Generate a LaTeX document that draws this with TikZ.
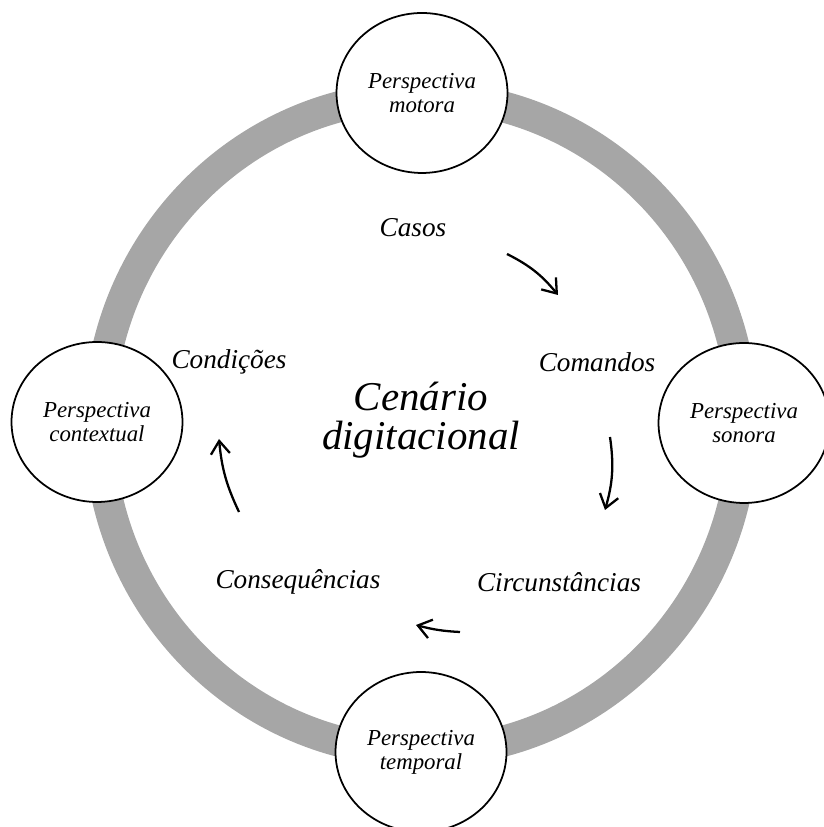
\documentclass[tikz,border=0pt]{standalone}
\usepackage{fontspec}
\setmainfont{Liberation Serif}
\usetikzlibrary{shapes.geometric,arrows.meta}
\definecolor{ringgray}{RGB}{166,166,166}
\begin{document}
\begin{tikzpicture}[x=0.02cm,y=0.02cm,
    persp/.style={ellipse,draw,line width=1pt,fill=white,minimum width=3.42cm,
      minimum height=3.2cm,inner sep=0pt,align=center,
      font=\fontsize{13}{13.6}\selectfont\itshape},
    phase/.style={font=\fontsize{15.5}{18}\selectfont\itshape},
    turn/.style={line width=1.3pt,-{Straight Barb[length=2.6mm,width=3.8mm]}}]
    \useasboundingbox (0,0) rectangle (823,827);

    \draw[ringgray,line width=0.62cm] (421,403) ellipse [x radius=322,y radius=328];

    \node[persp] (motora)     at (422,734) {Perspectiva\\motora};
    \node[persp] (contextual) at (97,405)  {Perspectiva\\contextual};
    \node[persp] (sonora)     at (744,404) {Perspectiva\\sonora};
    \node[persp] (temporal)   at (421,75)  {Perspectiva\\temporal};

    \node[font=\fontsize{23.3}{22.5}\selectfont\itshape,align=center] (cenario) at (421,407)
      {Cen\'ario\\digitacional};

    \node[phase] (casos)          at (413,599) {Casos};
    \node[phase] (comandos)       at (597,465) {Comandos};
    \node[phase] (condicoes)      at (229,465) {Condições};
    \node[phase] (circunstancias) at (559,245) {Circunstâncias};
    \node[phase] (consequencias)  at (298,245) {Consequências};

    \coordinate (a1) at (507,573);
    \coordinate (b1) at (558,532);
    \coordinate (a2) at (610,390);
    \coordinate (b2) at (605,317);
    \coordinate (a3) at (460,195);
    \coordinate (b3) at (416,202);
    \coordinate (a4) at (239,315);
    \coordinate (b4) at (219,388);

    \draw[turn] (a1) to[bend left=12] (b1);
    \draw[turn] (a2) to[bend left=12] (b2);
    \draw[turn] (a3) to[bend left=6]  (b3);
    \draw[turn] (a4) to[bend left=10] (b4);
\end{tikzpicture}
\end{document}
